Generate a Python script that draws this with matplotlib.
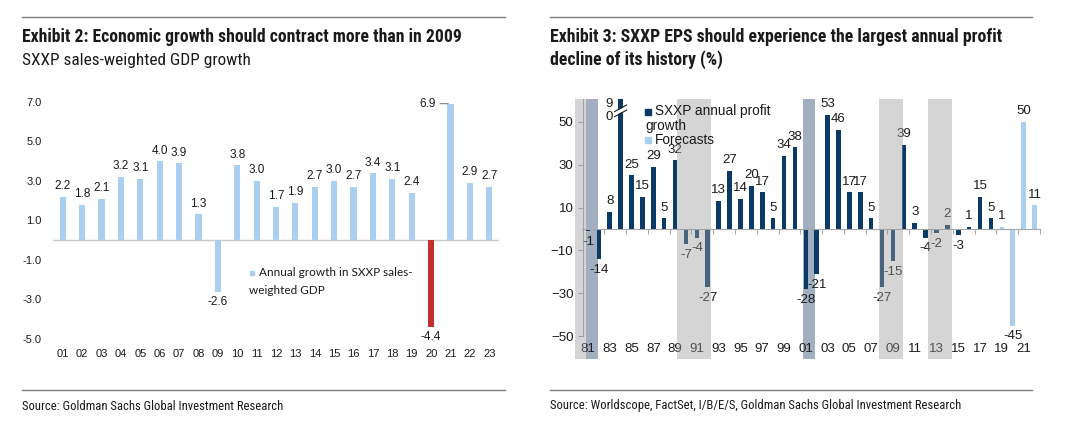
import matplotlib.pyplot as plt
import numpy as np
from matplotlib.patches import Rectangle
from matplotlib import font_manager

# ---- data: left panel (SXXP sales-weighted GDP growth) ----
gdp_years = ['01', '02', '03', '04', '05', '06', '07', '08', '09', '10', '11', '12',
             '13', '14', '15', '16', '17', '18', '19', '20', '21', '22', '23']
gdp_growth = [2.2, 1.8, 2.1, 3.2, 3.1, 4.0, 3.9, 1.3, -2.6, 3.8, 3.0, 1.7,
              1.9, 2.7, 3.0, 2.7, 3.4, 3.1, 2.4, -4.4, 6.9, 2.9, 2.7]
gdp_highlight = '20'

# ---- data: right panel (SXXP EPS growth) ----
eps_years = list(range(1981, 2023))
eps_growth = [-1, -14, 8, 90, 25, 15, 29, 5, 32, -7, -4, -27, 13, 27, 14, 20, 17, 5, 34, 38,
              -28, -21, 53, 46, 17, 17, 5, -27, -15, 39, 3, -4, -2, 2, -3, 1, 15, 5,
              1, -45, 50, 11]
first_forecast = 2019
broken_year = 1984
grey_periods = [(1979.8, 1980.8), (1989.2, 1992.3), (2007.7, 2009.9), (2012.2, 2014.4)]
bluegrey_periods = [(1980.8, 1981.9), (2000.7, 2001.8)]

navy = '#0b3a66'
lightblue = '#abcfee'
red = '#c0312f'
txt = '#1a1a1a'
num_font = 'Liberation Sans'

# pick a narrow family if one is installed, else plain Liberation Sans
names = {f.name for f in font_manager.fontManager.ttflist}
cond = 'Liberation Sans'
for cand in ['Liberation Sans Narrow', 'DejaVu Sans Condensed', 'Roboto Condensed',
             'Open Sans Condensed']:
    if cand in names:
        cond = cand
        break

fig = plt.figure(figsize=(10.68, 4.28), dpi=100)
W, H = 1068, 428

def px(x0, y0, x1, y1):
    return [x0 / W, 1 - y1 / H, (x1 - x0) / W, (y1 - y0) / H]

def fitted(x0, yc, s, width, size, **kw):
    # place text then shrink/grow so it spans the same width as the reference
    t = fig.text(x0 / W, 1 - yc / H, s, family=cond, fontsize=size, color=txt,
                 va='center', **kw)
    r = fig.canvas.get_renderer()
    w = t.get_window_extent(r).width
    t.set_fontsize(min(size * width / w, size * 1.15))
    return t

# header / footer rules
for x0, x1 in [(22, 505), (550, 1032)]:
    fig.add_artist(plt.Line2D([x0 / W, x1 / W], [1 - 17 / H] * 2, color='#7f7f7f', lw=1))
    fig.add_artist(plt.Line2D([x0 / W, x1 / W], [1 - 390 / H] * 2, color='#7f7f7f', lw=1))

fitted(22, 37, 'Exhibit 2: Economic growth should contract more than in 2009', 440, 12,
       weight='bold')
fitted(22, 60, 'SXXP sales-weighted GDP growth', 228, 12)
fitted(550, 37, 'Exhibit 3: SXXP EPS should experience the largest annual profit', 454, 12,
       weight='bold')
fitted(550, 60, 'decline of its history (%)', 174, 12, weight='bold')
fitted(22, 406, 'Source: Goldman Sachs Global Investment Research', 260, 9.5)
fitted(550, 406, 'Source: Worldscope, FactSet, I/B/E/S, Goldman Sachs Global Investment Research',
       411, 9.5)

# ---------------- left panel ----------------
ax = fig.add_axes(px(53, 101.7, 499, 339))
x = np.arange(len(gdp_years))
colors = [red if y == gdp_highlight else lightblue for y in gdp_years]
ax.bar(x, gdp_growth, width=0.32, color=colors, zorder=2)
ax.axhline(0, color='#c8c8c8', lw=1, zorder=1)
ax.set_xlim(-0.5, len(gdp_years) - 0.5)
ax.set_ylim(-5, 7)
ax.set_yticks(np.arange(-5, 8, 2))
ax.set_yticklabels([f'{v:.1f}' for v in np.arange(-5, 8, 2)])
ax.set_xticks(x)
ax.set_xticklabels(gdp_years)
ax.tick_params(axis='both', length=0, labelsize=8, labelcolor=txt)
ax.tick_params(axis='y', pad=8)
ax.tick_params(axis='x', pad=7)
for lab in ax.get_xticklabels() + ax.get_yticklabels():
    lab.set_family(num_font)
for s in ax.spines.values():
    s.set_visible(False)
for xi, v in zip(x, gdp_growth):
    if v == max(gdp_growth):
        ax.annotate(f'{v:.1f}', xy=(xi - 0.12, v), xytext=(xi - 0.75, v),
                    ha='right', va='center', fontsize=8.5, family=num_font, color=txt,
                    arrowprops=dict(arrowstyle='-', color='#808080', lw=0.8,
                                    shrinkA=1, shrinkB=0))
    elif v >= 0:
        ax.text(xi, v + 0.22, f'{v:.1f}', ha='center', va='bottom', fontsize=8.5,
                family=num_font, color=txt)
    else:
        ax.text(xi, v - 0.22, f'{v:.1f}', ha='center', va='top', fontsize=8.5,
                family=num_font, color=txt)

fig.add_artist(Rectangle((250 / W, 1 - 275 / H), 4 / W, 4 / H, color=lightblue))
fig.text(259 / W, 1 - 273 / H, 'Annual growth in SXXP sales-', family='Lato',
         fontsize=8.5, color=txt, va='center')
fig.text(249 / W, 1 - 291 / H, 'weighted GDP', family='Lato',
         fontsize=8.5, color=txt, va='center')

# ---------------- right panel ----------------
ax2 = fig.add_axes(px(582.5, 99, 1040, 359))
ax2.set_xlim(eps_years[0] - 0.5, eps_years[-1] + 0.5)
ax2.set_ylim(-60.5, 60.5)
for a, b in bluegrey_periods:
    ax2.axvspan(a, b, color='#a2afc1', zorder=1, lw=0, clip_on=False)
for a, b in grey_periods:
    ax2.axvspan(a, b, color='#9d9d9d', alpha=0.42, zorder=4, lw=0, clip_on=False)
bar_colors = [lightblue if y >= first_forecast else navy for y in eps_years]
ax2.bar(eps_years, eps_growth, width=0.42, color=bar_colors, zorder=2)

for yr, v in zip(eps_years, eps_growth):
    if yr == broken_year:
        ax2.text(yr - 1.05, 55, '9\n0', ha='center', va='center', fontsize=9.5,
                 family=num_font, color=txt, linespacing=1.15, zorder=3)
        ax2.plot([yr - 0.3, yr + 0.3], [54.2, 55.8], color='white', lw=2.5, zorder=2.9)
        for dy in (-1.2, 1.2):
            ax2.plot([yr - 0.55, yr + 0.55], [53.5 + dy, 56.5 + dy], color=txt,
                     lw=0.8, zorder=3)
        continue
    if v >= 0:
        ax2.text(yr, v + 2.2, f'{v}', ha='center', va='bottom', fontsize=9.5,
                 family=num_font, color=txt, zorder=3)
    else:
        ax2.text(yr, v - 2.2, f'{v}', ha='center', va='top', fontsize=9.5,
                 family=num_font, color=txt, zorder=3)

for yr in eps_years[::2]:
    ax2.text(yr, -56, f'{yr % 100:02d}', ha='center', va='center', fontsize=9.5,
             family=num_font, color=txt, zorder=3)

ax2.spines['top'].set_visible(False)
ax2.spines['right'].set_visible(False)
ax2.spines['left'].set_bounds(-50, 60.5)
ax2.spines['left'].set_color('#a6a6a6')
ax2.spines['bottom'].set_position(('data', 0))
ax2.spines['bottom'].set_color('#a6a6a6')
ax2.set_yticks(np.arange(-50, 51, 20))
ax2.tick_params(axis='y', length=3.5, color='#a6a6a6', labelsize=9.5, labelcolor=txt, pad=3)
for lab in ax2.get_yticklabels():
    lab.set_family(num_font)
ax2.set_xticks(np.arange(eps_years[0] + 1.5, eps_years[-1] + 1, 2))
ax2.tick_params(axis='x', length=3.5, color='#a6a6a6', labelbottom=False)

# legend
fig.add_artist(Rectangle((645 / W, 1 - 115 / H), 6 / W, 6 / H, color=navy))
fig.text(655 / W, 1 - 111 / H, 'SXXP annual profit', family=num_font, fontsize=9.8,
         color=txt, va='center')
fig.text(645 / W, 1 - 126 / H, 'growth', family=num_font, fontsize=9.8,
         color=txt, va='center')
fig.add_artist(Rectangle((645 / W, 1 - 143 / H), 6 / W, 6 / H, color=lightblue))
fig.text(655 / W, 1 - 140 / H, 'Forecasts', family=num_font, fontsize=9.8,
         color=txt, va='center')

fig.savefig('out.png', dpi=100)
